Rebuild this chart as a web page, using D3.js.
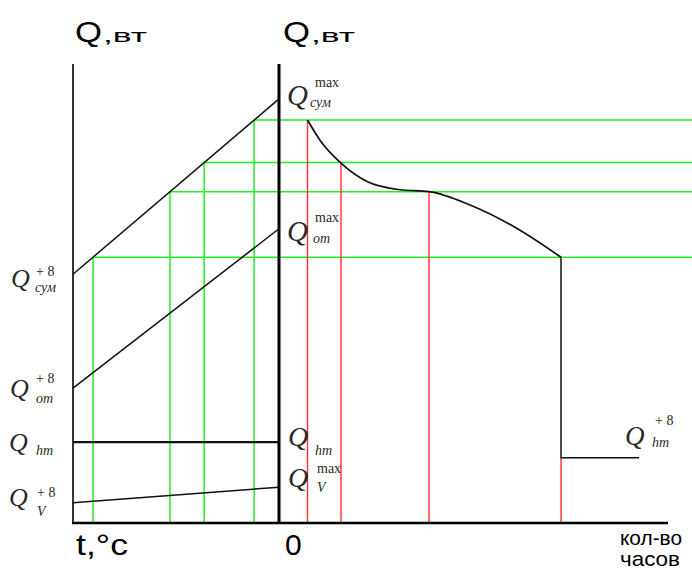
<!DOCTYPE html>
<html>
<head>
<meta charset="utf-8">
<script src="https://cdn.jsdelivr.net/npm/d3@7"></script>
<style>
  body { margin: 0; background: #fff; }
  svg { display: block; }
</style>
</head>
<body>
<script>
// temperature side: load at +8 °C and at design temperature
const tempEnds = [8, -30];
const sumLoad = [54.2, 92.4];
const otLoad = [29.4, 64.1];
const hwLoad = [17.6, 17.6];
const ventLoad = [4.4, 7.8];
// temperatures where the construction lines are dropped
const stepTemps = [4.3, -9.9, -16.2, -25.4];

// duration side: hours vs load
const durHours = [642, 923, 1396, 1982, 2725, 3378, 4301, 5427, 6351];
const durLoad = [87.8, 83.4, 78.4, 74.4, 72.6, 72.2, 69.3, 63.8, 57.9];
const markHours = [642, 1396, 3378, 6351];
const summerHours = [6351, 8108];
const summerLoad = 14.2;

const W = 692;
const H = 569;

const svg = d3.select('body').append('svg')
    .attr('width', W)
    .attr('height', H);

const yQ = d3.scaleLinear().domain([0, 100]).range([523, 64]);
const xT = d3.scaleLinear().domain(tempEnds).range([73, 279]);
const xH = d3.scaleLinear().domain([0, 8760]).range([279, 668]);
const sumAt = d3.scaleLinear().domain(tempEnds).range(sumLoad);

const tLine = d3.line().x(d => xT(d[0])).y(d => yQ(d[1]));
const hLine = d3.line().x(d => xH(d[0])).y(d => yQ(d[1])).curve(d3.curveMonotoneX);

const green = '#22ee22';
const red = '#ff3030';

// green construction lines
const gGreen = svg.append('g')
    .attr('stroke', green)
    .attr('stroke-width', 1.5)
    .attr('fill', 'none');

gGreen.selectAll('line.v')
    .data(stepTemps)
    .join('line')
    .attr('class', 'v')
    .attr('x1', d => xT(d))
    .attr('x2', d => xT(d))
    .attr('y1', d => yQ(sumAt(d)))
    .attr('y2', yQ(0));

gGreen.selectAll('line.h')
    .data(stepTemps)
    .join('line')
    .attr('class', 'h')
    .attr('x1', d => xT(d))
    .attr('x2', W)
    .attr('y1', d => yQ(sumAt(d)))
    .attr('y2', d => yQ(sumAt(d)));

// red hour markers
const markTop = h => (h === summerHours[0] ? summerLoad : durLoad[durHours.indexOf(h)]);
svg.append('g')
    .attr('stroke', red)
    .attr('stroke-width', 1.4)
    .selectAll('line')
    .data(markHours)
    .join('line')
    .attr('x1', d => xH(d))
    .attr('x2', d => xH(d))
    .attr('y1', d => yQ(markTop(d)))
    .attr('y2', yQ(0));

// load lines vs temperature
const gLoad = svg.append('g')
    .attr('fill', 'none')
    .attr('stroke', '#111');

[sumLoad, otLoad, ventLoad].forEach(s => {
    gLoad.append('path')
        .attr('stroke-width', 1.5)
        .attr('d', tLine(tempEnds.map((t, i) => [t, s[i]])));
});
gLoad.append('path')
    .attr('stroke-width', 2.2)
    .attr('d', tLine(tempEnds.map((t, i) => [t, hwLoad[i]])));

// duration curve
gLoad.append('path')
    .attr('stroke-width', 1.7)
    .attr('d', hLine(durHours.map((h, i) => [h, durLoad[i]])));

gLoad.append('path')
    .attr('stroke-width', 1.5)
    .attr('d', d3.line()([
        [xH(summerHours[0]), yQ(durLoad[durLoad.length - 1])],
        [xH(summerHours[0]), yQ(summerLoad)],
        [xH(summerHours[1]), yQ(summerLoad)],
    ]));

// axes
const gAxis = svg.append('g').attr('stroke', '#000');
gAxis.append('line')
    .attr('x1', xT(tempEnds[0])).attr('x2', xT(tempEnds[0]))
    .attr('y1', yQ(100)).attr('y2', yQ(0))
    .attr('stroke-width', 1.6);
gAxis.append('line')
    .attr('x1', xH(0)).attr('x2', xH(0))
    .attr('y1', yQ(100)).attr('y2', yQ(0))
    .attr('stroke-width', 3);
gAxis.append('line')
    .attr('x1', xT(tempEnds[0]) - 1).attr('x2', xH(8760))
    .attr('y1', yQ(0)).attr('y2', yQ(0))
    .attr('stroke-width', 2.6);

// axis titles
const sans = '"Liberation Sans", Arial, sans-serif';
function stretched(x, y, txt, size, len) {
    svg.append('text')
        .attr('x', x).attr('y', y)
        .attr('font-family', sans)
        .attr('font-size', size)
        .attr('textLength', len)
        .attr('lengthAdjust', 'spacingAndGlyphs')
        .text(txt);
}
[75, 283].forEach(x => {
    stretched(x, 42, 'Q', 30, 27);
    stretched(x + 28, 42, ',вт', 19, 44);
});
stretched(76, 555, 't,°c', 29, 52);
svg.append('text')
    .attr('x', 285).attr('y', 555)
    .attr('font-family', sans)
    .attr('font-size', 30)
    .text('0');
stretched(620, 545, 'кол-во', 21, 62);
stretched(620, 566, 'часов', 21, 60);

// Q labels
const serif = '"Liberation Serif", "Times New Roman", serif';
const labels = [
    { x: 11, y: 287, s: 26, sup: '+ 8', supX: 36, supY: 276, sub: 'сум', subX: 35, subY: 292 },
    { x: 10, y: 397, s: 26, sup: '+ 8', supX: 36, supY: 383, sub: 'от', subX: 36, subY: 403 },
    { x: 9, y: 451, s: 26, sup: '', sub: 'hт', subX: 36, subY: 455 },
    { x: 9, y: 506, s: 26, sup: '+ 8', supX: 37, supY: 497, sub: 'V', subX: 37, subY: 516 },
    { x: 287, y: 105, s: 29, sup: 'max', supX: 315, supY: 87, sub: 'сум', subX: 310, subY: 107 },
    { x: 287, y: 241, s: 29, sup: 'max', supX: 315, supY: 222, sub: 'от', subX: 313, subY: 243 },
    { x: 288, y: 446, s: 28, sup: '', sub: 'hт', subX: 315, subY: 455 },
    { x: 288, y: 487, s: 28, sup: 'max', supX: 317, supY: 473, sub: 'V', subX: 317, subY: 492 },
    { x: 625, y: 445, s: 27, sup: '+ 8', supX: 655, supY: 425, sub: 'hт', subX: 652, subY: 447 },
];

const gLab = svg.append('g')
    .attr('font-family', serif)
    .attr('fill', '#2a2a2a');

labels.forEach(l => {
    gLab.append('text')
        .attr('x', l.x).attr('y', l.y)
        .attr('font-size', l.s)
        .attr('font-style', 'italic')
        .text('Q');
    if (l.sup) {
        gLab.append('text')
            .attr('x', l.supX).attr('y', l.supY)
            .attr('font-size', 14)
            .text(l.sup);
    }
    gLab.append('text')
        .attr('x', l.subX).attr('y', l.subY)
        .attr('font-size', 14)
        .attr('font-style', 'italic')
        .text(l.sub);
});
</script>
</body>
</html>
